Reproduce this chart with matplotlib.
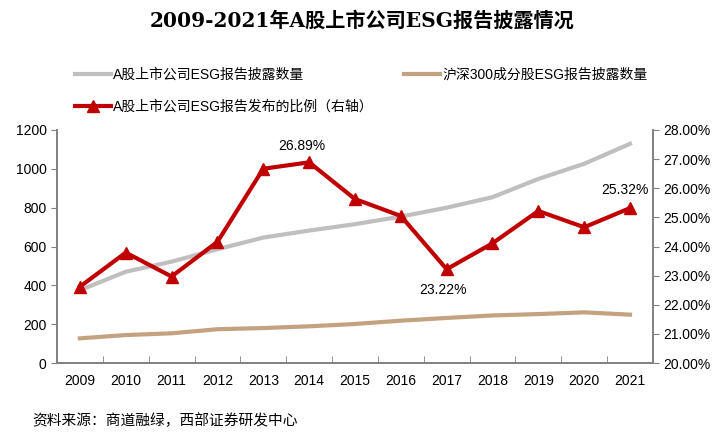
import matplotlib
matplotlib.use('Agg')
import matplotlib.pyplot as plt
from matplotlib.ticker import FuncFormatter, FixedLocator
import numpy as np

plt.rcParams['font.family'] = ['Liberation Sans', 'Noto Sans CJK SC']

years = ['2009', '2010', '2011', '2012', '2013', '2014', '2015',
         '2016', '2017', '2018', '2019', '2020', '2021']
a_share_count = [375, 470, 522, 586, 646, 682, 715, 754, 800, 854, 948, 1026, 1129]
hs300_count = [127, 144, 153, 174, 180, 189, 201, 218, 232, 245, 252, 261, 249]
report_ratio = [22.62, 23.79, 22.97, 24.16, 26.67, 26.89, 25.63,
                25.05, 23.22, 24.11, 25.22, 24.66, 25.32]

label_a = 'A股上市公司ESG报告披露数量'
label_hs = '沪深300成分股ESG报告披露数量'
label_ratio = 'A股上市公司ESG报告发布的比例（右轴）'

fig = plt.figure(figsize=(7.25, 4.38), dpi=100)
ax = fig.add_axes([0.0786, 0.1712, 0.822, 0.532])
ax2 = ax.twinx()

x = np.arange(len(years))
l1, = ax.plot(x, a_share_count, color='#BFBFBF', lw=3, label=label_a)
l2, = ax.plot(x, hs300_count, color='#C4A27F', lw=3, label=label_hs)
l3, = ax2.plot(x, report_ratio, color='#C00000', lw=3, marker='^',
               markersize=9, label=label_ratio)

ax.set_xlim(-0.5, len(years) - 0.5)
ax.set_ylim(0, 1200)
ax.set_yticks(range(0, 1201, 200))
ax2.set_ylim(20, 28)
ax2.set_yticks(range(20, 29))
ax2.yaxis.set_major_formatter(FuncFormatter(lambda v, p: f'{v:.2f}%'))

ax.set_xticks(x)
ax.set_xticklabels(years)
ax.xaxis.set_minor_locator(FixedLocator(np.arange(-0.5, len(years), 1)))
ax.tick_params(axis='x', which='major', length=0, pad=8, labelsize=10)
ax.tick_params(axis='x', which='minor', direction='in', length=5, color='#808080')
ax.tick_params(axis='y', direction='out', length=4, color='#808080', labelsize=10)
ax2.tick_params(axis='y', direction='out', length=4, color='#808080', labelsize=10)

for a in (ax, ax2):
    a.spines['top'].set_visible(False)
    for s in ('left', 'right', 'bottom'):
        a.spines[s].set_color('#808080')
        a.spines[s].set_linewidth(1.2)

# annotations
for i, dy, dx in [(5, 6.5, -5.5), (8, -10, -2.5), (12, 8, -3.6)]:
    va = 'bottom' if dy > 0 else 'top'
    ax2.annotate(f'{report_ratio[i]:.2f}%', (x[i], report_ratio[i]),
                 xytext=(dx, dy), textcoords='offset points',
                 ha='center', va=va, fontsize=10)

fig.legend(handles=[l1, l3, l2], ncol=2, frameon=False, loc='upper left',
           bbox_to_anchor=(0.094, 0.862), borderpad=0, fontsize=10,
           handlelength=2.6, handletextpad=0.15, labelspacing=1.35,
           columnspacing=2.15)

fig.text(0.5, 0.953, '2009-2021年A股上市公司ESG报告披露情况', ha='center', va='center',
         fontsize=14.5, fontweight='bold',
         family=['DejaVu Serif', 'Noto Sans CJK SC'])
fig.text(0.044, 0.04, '资料来源：商道融绿，西部证券研发中心', ha='left', va='center',
         fontsize=10.6, family=['Noto Sans CJK SC'])

fig.savefig('out.png', dpi=100)
